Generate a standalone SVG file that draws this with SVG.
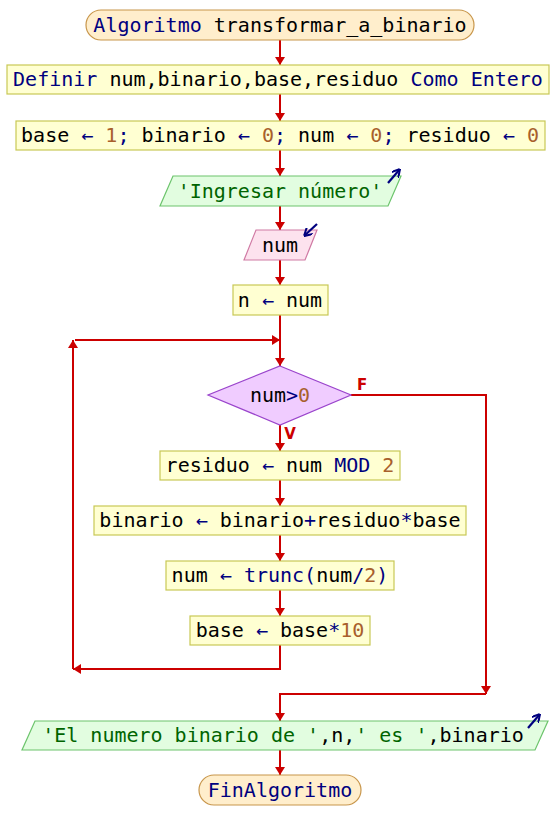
<svg xmlns="http://www.w3.org/2000/svg" width="560" height="840" viewBox="0 0 560 840">
<style>
text{font-family:"DejaVu Sans Mono","Liberation Mono",monospace;font-size:20px;fill:#000;text-anchor:middle}
.k{fill:#00007f}.n{fill:#a8602c}.s{fill:#006400}
.term{fill:#ffeecc;stroke:#c8964b;stroke-width:1.2}
.proc{fill:#ffffd2;stroke:#c8c855;stroke-width:1.2}
.out{fill:#e2fde0;stroke:#6cc46c;stroke-width:1.2}
.inp{fill:#fde2ee;stroke:#d07aa4;stroke-width:1.2}
.dec{fill:#f0ccff;stroke:#9a44cc;stroke-width:1.2}
.c{fill:none;stroke:#cc0000;stroke-width:2}
.ico{fill:none;stroke:#00007f;stroke-width:2.2}
.lbl{font-family:"DejaVu Sans","Liberation Sans",sans-serif;font-size:15px;font-weight:bold;fill:#cc0000}
</style>
<defs>
<marker id="ah" markerUnits="userSpaceOnUse" markerWidth="8" markerHeight="10" refX="8" refY="5" orient="auto" viewBox="0 0 8 10">
<path d="M0,0 L8,5 L0,10 z" fill="#cc0000"/>
</marker>
<marker id="ai" markerUnits="userSpaceOnUse" markerWidth="8" markerHeight="9" refX="8" refY="4.5" orient="auto" viewBox="0 0 8 9">
<path d="M0,0 L8,4.5 L0,9" fill="none" stroke="#00007f" stroke-width="2"/>
</marker>
</defs>
<g id="connectors">
<line class="c" x1="280" y1="40" x2="280" y2="65" marker-end="url(#ah)"/>
<line class="c" x1="280" y1="94" x2="280" y2="121" marker-end="url(#ah)"/>
<line class="c" x1="280" y1="150" x2="280" y2="176" marker-end="url(#ah)"/>
<line class="c" x1="280" y1="206" x2="280" y2="230" marker-end="url(#ah)"/>
<line class="c" x1="280" y1="260" x2="280" y2="285" marker-end="url(#ah)"/>
<line class="c" x1="280" y1="315" x2="280" y2="366" marker-end="url(#ah)"/>
<line class="c" x1="280" y1="425" x2="280" y2="451" marker-end="url(#ah)"/>
<line class="c" x1="280" y1="480" x2="280" y2="506" marker-end="url(#ah)"/>
<line class="c" x1="280" y1="535" x2="280" y2="561" marker-end="url(#ah)"/>
<line class="c" x1="280" y1="590" x2="280" y2="616" marker-end="url(#ah)"/>
<polyline class="c" points="280,645 280,669 73,669" marker-end="url(#ah)"/>
<line class="c" x1="73" y1="669" x2="73" y2="340" marker-end="url(#ah)"/>
<line class="c" x1="75" y1="340" x2="280" y2="340" marker-end="url(#ah)"/>
<polyline class="c" points="351,395 486,395 486,694" marker-end="url(#ah)"/>
<polyline class="c" points="486,694 280,694 280,721" marker-end="url(#ah)"/>
<line class="c" x1="280" y1="750" x2="280" y2="775" marker-end="url(#ah)"/>
<text class="lbl" x="362" y="390">F</text>
<text class="lbl" x="290" y="439">V</text>
</g>
<g id="start">
<rect class="term" x="86" y="10" width="388" height="30" rx="15"/>
<text x="280" y="32"><tspan class="k">Algoritmo</tspan> transformar_a_binario</text>
</g>
<g id="definir">
<rect class="proc" x="7" y="65" width="542" height="29"/>
<text x="278" y="86"><tspan class="k">Definir</tspan> num,binario,base,residuo <tspan class="k">Como Entero</tspan></text>
</g>
<g id="init">
<rect class="proc" x="16" y="121" width="529" height="29"/>
<text x="280" y="142">base <tspan class="k">←</tspan> <tspan class="n">1</tspan><tspan class="k">;</tspan> binario <tspan class="k">←</tspan> <tspan class="n">0</tspan><tspan class="k">;</tspan> num <tspan class="k">←</tspan> <tspan class="n">0</tspan><tspan class="k">;</tspan> residuo <tspan class="k">←</tspan> <tspan class="n">0</tspan></text>
</g>
<g id="out1">
<polygon class="out" points="173,176 401,176 388,206 160,206"/>
<text x="280" y="198" class="s">'Ingresar número'</text>
<line class="ico" x1="388" y1="183" x2="400" y2="169" marker-end="url(#ai)"/>
</g>
<g id="in1">
<polygon class="inp" points="256,230 317,230 305,260 244,260"/>
<text x="280" y="252">num</text>
<line class="ico" x1="317" y1="224" x2="304" y2="236" marker-end="url(#ai)"/>
</g>
<g id="assign_n">
<rect class="proc" x="233" y="285" width="95" height="30"/>
<text x="280" y="307">n <tspan class="k">←</tspan> num</text>
</g>
<g id="cond">
<polygon class="dec" points="280,366 351,395 280,425 208,395"/>
<text x="280" y="402">num<tspan class="k">&gt;</tspan><tspan class="n">0</tspan></text>
</g>
<g id="residuo">
<rect class="proc" x="160" y="451" width="240" height="29"/>
<text x="280" y="472">residuo <tspan class="k">←</tspan> num <tspan class="k">MOD</tspan> <tspan class="n">2</tspan></text>
</g>
<g id="binario">
<rect class="proc" x="94" y="506" width="372" height="29"/>
<text x="280" y="527">binario <tspan class="k">←</tspan> binario<tspan class="k">+</tspan>residuo<tspan class="k">*</tspan>base</text>
</g>
<g id="trunc">
<rect class="proc" x="166" y="561" width="228" height="29"/>
<text x="280" y="582">num <tspan class="k">←</tspan> <tspan class="k">trunc(</tspan>num<tspan class="k">/</tspan><tspan class="n">2</tspan><tspan class="k">)</tspan></text>
</g>
<g id="base">
<rect class="proc" x="190" y="616" width="180" height="29"/>
<text x="280" y="637">base <tspan class="k">←</tspan> base<tspan class="k">*</tspan><tspan class="n">10</tspan></text>
</g>
<g id="out2">
<polygon class="out" points="35,721 548,721 535,750 22,750"/>
<text x="283" y="742"><tspan class="s">'El numero binario de '</tspan>,n,<tspan class="s">' es '</tspan>,binario</text>
<line class="ico" x1="528" y1="728" x2="540" y2="714" marker-end="url(#ai)"/>
</g>
<g id="end">
<rect class="term" x="199" y="775" width="162" height="30" rx="15"/>
<text x="280" y="797" class="k">FinAlgoritmo</text>
</g>
</svg>
